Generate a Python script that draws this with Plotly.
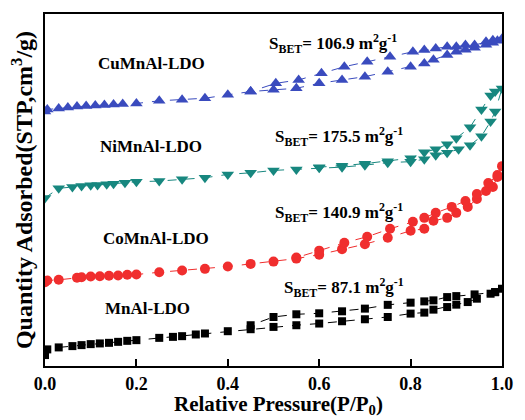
import plotly.graph_objects as go

# ---- data (relative pressure, quantity adsorbed in arbitrary plot units) ----
mn_ads_x = [0.0, 0.005, 0.03, 0.06, 0.08, 0.1, 0.12, 0.14, 0.16, 0.18, 0.2, 0.25, 0.28, 0.3, 0.33,
            0.35, 0.4, 0.45, 0.5, 0.55, 0.6, 0.65, 0.7, 0.75, 0.8, 0.83, 0.85, 0.88, 0.9, 0.925,
            0.945, 0.975, 0.985, 1.0]
mn_ads_y = [11, 16.7, 18.7, 20, 21, 22, 22.7, 23.3, 24.3, 25.3, 26, 28.3, 29.3, 30, 31.7,
            32.7, 35, 37, 39.3, 41, 42.7, 45, 47, 49.3, 52.7, 53.7, 56.7, 59.3, 61.7, 64.3,
            67.7, 72.7, 74.3, 77.7]
mn_des_x = [0.985, 0.94, 0.9, 0.88, 0.85, 0.83, 0.8, 0.75, 0.7, 0.65, 0.6, 0.55, 0.5, 0.45]
mn_des_y = [74.3, 72, 70.3, 69.3, 66, 65, 63.7, 61.5, 57.7, 55, 53, 52, 49.3, 41]

co_ads_x = [0.0, 0.005, 0.03, 0.07, 0.08, 0.1, 0.12, 0.14, 0.16, 0.18, 0.2, 0.25, 0.3, 0.35, 0.4,
            0.45, 0.5, 0.55, 0.6, 0.65, 0.7, 0.75, 0.8, 0.83, 0.85, 0.88, 0.9, 0.925, 0.945, 0.965,
            0.98, 0.99, 1.0]
co_ads_y = [84.3, 86, 86.7, 88.7, 89.3, 90, 90.3, 90.7, 91, 91.7, 92, 94.3, 96, 97.7, 100,
            102.7, 105, 108, 112, 117.5, 122.5, 129, 136, 138, 146, 149, 154, 160, 168, 176,
            180, 190, 201]
co_des_x = [0.99, 0.97, 0.945, 0.92, 0.89, 0.855, 0.83, 0.805, 0.755, 0.705, 0.655, 0.6, 0.55]
co_des_y = [192, 184, 173, 166, 160, 154, 149, 145, 138, 130, 124, 116, 109]

ni_ads_x = [0.0, 0.03, 0.06, 0.08, 0.1, 0.115, 0.135, 0.15, 0.175, 0.2, 0.25, 0.3, 0.35, 0.4, 0.45,
            0.5, 0.55, 0.6, 0.65, 0.7, 0.75, 0.8, 0.83, 0.855, 0.88, 0.905, 0.93, 0.955, 0.975, 0.985,
            1.0]
ni_ads_y = [169, 178.7, 180, 181, 181.7, 182, 182.7, 183.3, 184.3, 185.3, 186, 187.7, 189.3, 192.7, 194.3,
            196.7, 197.7, 199.3, 200, 202, 204.5, 205.5, 208, 212, 214.5, 218, 222, 231, 246, 256,
            279]
ni_des_x = [0.985, 0.975, 0.955, 0.93, 0.9, 0.88, 0.855, 0.83, 0.8, 0.75, 0.7, 0.65, 0.6]
ni_des_y = [276, 272, 258, 240, 229, 223, 218, 215, 209, 206, 203.5, 201.5, 200]

cu_ads_x = [0.0, 0.005, 0.03, 0.05, 0.07, 0.09, 0.11, 0.13, 0.15, 0.17, 0.2, 0.25, 0.3, 0.35, 0.4,
            0.45, 0.5, 0.55, 0.6, 0.65, 0.7, 0.75, 0.8, 0.83, 0.85, 0.88, 0.9, 0.92, 0.94, 0.965,
            0.98, 0.99, 1.0]
cu_ads_y = [256, 258, 259, 260, 261, 261.5, 262, 262.5, 263, 263.5, 264, 266.7, 267.7, 269.3, 272.7,
            276, 277.7, 279.3, 284.3, 287.7, 291, 296, 301, 304.3, 308, 312.7, 316, 318, 320, 323,
            325, 327, 329]
cu_des_x = [0.98, 0.965, 0.94, 0.92, 0.9, 0.88, 0.855, 0.83, 0.805, 0.755, 0.705, 0.655, 0.605,
            0.555, 0.505, 0.45]
cu_des_y = [327.7, 326, 322.7, 322.7, 321, 321, 319.3, 317.7, 316, 311, 306, 301, 294.3,
            287.7, 284.3, 276]

samples = ["MnAl-LDO", "CoMnAl-LDO", "NiMnAl-LDO", "CuMnAl-LDO"]
sbet = ["87.1", "140.9", "175.5", "106.9"]
x_ticks = [0.0, 0.2, 0.4, 0.6, 0.8, 1.0]
tick_text = ["0.0", "0.2", "0.4", "0.6", "0.8", "1.0"]

SERIF = "Liberation Serif, Times New Roman, serif"

series = [
    (mn_ads_x + mn_des_x, mn_ads_y + mn_des_y, "#000000", "square", 8),
    (co_ads_x + co_des_x, co_ads_y + co_des_y, "#F02E2E", "circle", 10),
    (ni_ads_x + ni_des_x, ni_ads_y + ni_des_y, "#17877F", "triangle-down", 11),
    (cu_ads_x + cu_des_x, cu_ads_y + cu_des_y, "#3A4BBE", "triangle-up", 11),
]

fig = go.Figure()
for (xs, ys, col, sym, sz), name in zip(series, samples):
    fig.add_trace(go.Scatter(
        x=xs, y=ys, mode="lines+markers", name=name, showlegend=False,
        line=dict(color=col, width=1, dash="dash"),
        marker=dict(color=col, symbol=sym, size=sz, line=dict(width=0)),
    ))

# sample labels and S_BET labels
label_pos = [(0.225, 58), (0.242, 128), (0.231, 221), (0.234, 304)]
sbet_pos = [(0.519, 79), (0.499, 154), (0.499, 231), (0.486, 324)]
for name, s, (lx, ly), (sx, sy) in zip(samples, sbet, label_pos, sbet_pos):
    fig.add_annotation(x=lx, y=ly, xref="x", yref="y", text="<b>" + name + "</b>",
                       showarrow=False, font=dict(family=SERIF, size=17, color="black"))
    fig.add_annotation(x=sx, y=sy, xref="x", yref="y", xanchor="left",
                       text="<b>S<sub>BET</sub>= " + s + " m<sup>2</sup>g<sup>-1</sup></b>",
                       showarrow=False, font=dict(family=SERIF, size=17, color="black"))

# x-axis title (placed slightly left of centre as in the reference)
fig.add_annotation(x=0.51, y=-0.112, xref="paper", yref="paper", yanchor="middle",
                   text="<b>Relative Pressure(P/P<sub>0</sub>)</b>", showarrow=False,
                   font=dict(family=SERIF, size=21, color="black"))

fig.update_layout(
    width=525, height=420,
    margin=dict(l=45, r=13, t=12, b=54),
    paper_bgcolor="white", plot_bgcolor="white",
    font=dict(family=SERIF, color="black"),
)
fig.update_xaxes(
    range=[0, 1.0], showgrid=False, zeroline=False,
    showline=True, linecolor="black", linewidth=2, mirror=True,
    tickvals=x_ticks, ticktext=["<b>" + t + "</b>" for t in tick_text],
    ticks="inside", ticklen=7, tickwidth=2, tickcolor="black",
    tickfont=dict(family=SERIF, size=18, color="black"),
)
fig.update_yaxes(
    range=[0, 354], showgrid=False, zeroline=False,
    showline=True, linecolor="black", linewidth=2, mirror=True,
    showticklabels=False, ticks="",
    title=dict(text="<b>Quantity Adsorbed(STP,cm<sup>3</sup>/g)</b>",
               font=dict(family=SERIF, size=24, color="black"), standoff=4),
)

fig.write_html("out.html")
